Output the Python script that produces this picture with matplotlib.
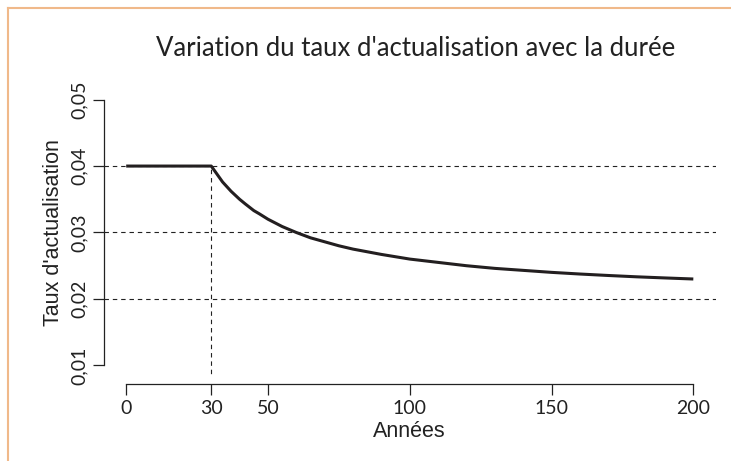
import matplotlib
matplotlib.use("Agg")
import matplotlib.pyplot as plt
from matplotlib.lines import Line2D

# --- data ---
annees = [0, 30, 32, 34, 37, 40, 42, 45, 47, 50, 55, 60, 65, 70, 75, 80, 90,
          100, 110, 120, 130, 140, 150, 160, 170, 180, 190, 200]
taux = [0.040, 0.040, 0.0388, 0.0376, 0.0362, 0.0350, 0.0343, 0.0333, 0.0328,
        0.0320, 0.0309, 0.0300, 0.0292, 0.0286, 0.0280, 0.0275, 0.0267,
        0.0260, 0.0255, 0.0250, 0.0246, 0.0243, 0.0240, 0.02375, 0.02353,
        0.02333, 0.02316, 0.0230]

x_ticks = [0, 30, 50, 100, 150, 200]
y_ticks = [0.01, 0.02, 0.03, 0.04, 0.05]
y_tick_labels = ["0,01", "0,02", "0,03", "0,04", "0,05"]
ref_lines = [0.04, 0.03, 0.02]
seuil = 30

title_font = "Lato"
label_font = "Liberation Sans"

fig = plt.figure(figsize=(7.31, 4.61), dpi=100)
ax = fig.add_axes([103.5 / 731, 1 - 376 / 461, (716 - 103.5) / 731, (376 - 89) / 461])

dash = (0, (4, 3.5))
for y in ref_lines:
    ax.axhline(y, color="#222222", lw=0.8, linestyle=dash)
ax.plot([seuil, seuil], [0, 0.04], color="#222222", lw=0.8, linestyle=dash)

ax.plot(annees, taux, color="#231f20", lw=2.2, solid_capstyle="butt")

ax.set_xlim(-8, 208)
ax.set_ylim(0.0084, 0.0516)

for s in ["top", "right"]:
    ax.spines[s].set_visible(False)
ax.spines["bottom"].set_position(("outward", 6))
ax.spines["bottom"].set_bounds(0, 200)
ax.spines["left"].set_bounds(0.01, 0.05)
for s in ["bottom", "left"]:
    ax.spines[s].set_linewidth(0.9)
    ax.spines[s].set_color("#222222")

ax.set_xticks(x_ticks)
ax.set_xticklabels([str(v) for v in x_ticks], fontfamily=title_font, fontsize=14)
ax.set_yticks(y_ticks)
ax.set_yticklabels(y_tick_labels, fontfamily=title_font, fontsize=14,
                   rotation=90, va="center")
ax.tick_params(axis="both", length=8, width=0.9, color="#222222",
               labelcolor="#222222", pad=3)

ax.set_xlabel("Années", fontfamily=label_font, fontsize=15.5, color="#222222", labelpad=3)
ax.set_ylabel("Taux d'actualisation", fontfamily=label_font, fontsize=15.5,
              color="#222222", labelpad=5)

fig.text(416 / 731, 1 - 48 / 461, "Variation du taux d'actualisation avec la durée",
         fontfamily=title_font, fontsize=18.5, color="#222222", ha="center", va="center")

# orange frame (top and left edges)
frame = "#f0b98a"
fig.add_artist(Line2D([7.5 / 731, 1], [1 - 8 / 461, 1 - 8 / 461], color=frame, lw=1.5))
fig.add_artist(Line2D([8 / 731, 8 / 731], [0, 1 - 8 / 461], color=frame, lw=1.5))

fig.savefig("out.png", dpi=100)
